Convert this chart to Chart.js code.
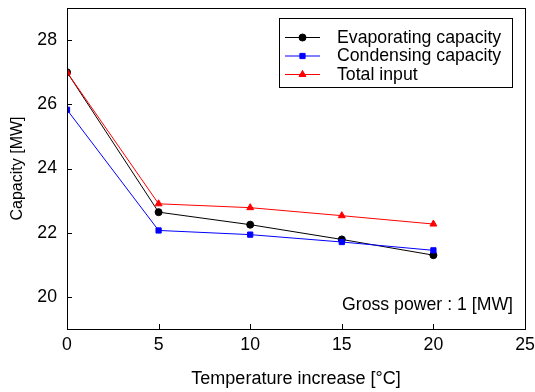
<!DOCTYPE html>
<html><head><meta charset="utf-8">
<script src="https://cdn.jsdelivr.net/npm/chart.js@4/dist/chart.umd.min.js"></script>
<style>html,body{margin:0;padding:0;background:#fff}#wrap{width:535px;height:392px}</style>
</head><body><div id="wrap"><canvas id="c" width="535" height="392"></canvas></div>
<script>
const temps = [0, 5, 10, 15, 20];
const evaporating = [27.0, 22.64, 22.25, 21.79, 21.30];
const condensing = [25.83, 22.07, 21.94, 21.71, 21.45];
const totalInput = [27.0, 22.90, 22.78, 22.53, 22.27];
const xTicks = [0, 5, 10, 15, 20, 25];
const yTicks = [20, 22, 24, 26, 28];
const seriesNames = ['Evaporating capacity', 'Condensing capacity', 'Total input'];
const annotation = 'Gross power : 1 [MW]';

const FONT = 'Liberation Sans, Arial, sans-serif';
const FS = 17.7;
Chart.defaults.font.family = FONT;
Chart.defaults.color = '#000';

function pts(ys){ return temps.map((x,i)=>({x:x,y:ys[i]})); }

const boxPlugin = {
  id:'boxPlugin',
  afterDraw(chart){
    const ctx = chart.ctx, a = chart.chartArea;
    const xs = chart.scales.x, ys = chart.scales.y;
    ctx.save();
    ctx.strokeStyle = '#000'; ctx.lineWidth = 1;
    ctx.strokeRect(Math.round(a.left)+0.5, Math.round(a.top)+0.5, Math.round(a.right-a.left), Math.round(a.bottom-a.top));
    ctx.beginPath();
    xTicks.forEach(v=>{ if(v>xs.min && v<xs.max){ const px=Math.round(xs.getPixelForValue(v))+0.5; ctx.moveTo(px,a.bottom); ctx.lineTo(px,a.bottom-5);} });
    yTicks.forEach(v=>{ const py=Math.round(ys.getPixelForValue(v))+0.5; ctx.moveTo(a.left,py); ctx.lineTo(a.left+5,py); });
    ctx.stroke();
    // legend
    const lx=279, ly=18, lw=233, lh=69;
    ctx.fillStyle='#fff'; ctx.fillRect(lx+0.5,ly+0.5,lw,lh);
    ctx.strokeRect(lx+0.5,ly+0.5,lw,lh);
    const rows=[37,55.5,74];
    chart.data.datasets.forEach((d,i)=>{
      const y=rows[i];
      ctx.strokeStyle=d.borderColor; ctx.lineWidth=1;
      ctx.beginPath(); ctx.moveTo(285,y+0.5); ctx.lineTo(320,y+0.5); ctx.stroke();
      ctx.fillStyle=d.pointBackgroundColor; ctx.strokeStyle=d.pointBorderColor;
      Chart.helpers.drawPoint(ctx,{pointStyle:d.pointStyle,radius:d.pointRadius,borderWidth:1},302.5,y+0.5);
      ctx.fillStyle='#000'; ctx.font=FS+'px '+FONT; ctx.textBaseline='middle'; ctx.textAlign='left';
      ctx.fillText(d.label,337,y+1);
    });
    ctx.fillStyle='#000'; ctx.font=FS+'px '+FONT; ctx.textAlign='right'; ctx.textBaseline='alphabetic';
    ctx.fillText(annotation,513,310);
    ctx.restore();
  }
};

const mk = (i, ys, color, style, r, order)=>({
  label: seriesNames[i], data: pts(ys), borderColor: color, backgroundColor: color,
  pointBackgroundColor: color, pointBorderColor: color, borderWidth: 1,
  pointStyle: style, pointRadius: r, pointHoverRadius: r, pointBorderWidth: 1,
  tension: 0, order: order
});

new Chart(document.getElementById('c'), {
  type:'line',
  data:{ datasets:[
    mk(0, evaporating, '#000000', 'circle', 3.5, 3),
    mk(1, condensing, '#0000ff', 'rect', 3.7, 2),
    mk(2, totalInput, '#ff0000', 'triangle', 4, 1)
  ]},
  options:{
    responsive:false, animation:false, devicePixelRatio:1,
    layout:{padding:{top:8, right:10, left:0, bottom:0}},
    plugins:{legend:{display:false}, tooltip:{enabled:false}},
    scales:{
      x:{ type:'linear', min:0, max:25,
        afterBuildTicks(s){ s.ticks = xTicks.map(v=>({value:v})); },
        afterFit(s){ s.height = 63; s.paddingLeft=0; s.paddingRight=0; },
        grid:{display:false, drawTicks:false},
        border:{display:true,color:'#000'},
        ticks:{font:{size:FS}, padding:5, maxRotation:0, autoSkip:false},
        title:{display:true, text:'Temperature increase [°C]', font:{size:18}, padding:{top:4,bottom:2}}
      },
      y:{ type:'linear', min:19, max:29,
        afterBuildTicks(s){ s.ticks = yTicks.map(v=>({value:v})); },
        afterFit(s){ s.width = 67; s.paddingTop=0; s.paddingBottom=0; },
        grid:{display:false, drawTicks:false},
        border:{display:true,color:'#000'},
        ticks:{font:{size:FS}, padding:10},
        title:{display:true, text:'Capacity [MW]', font:{size:16}, padding:{top:8,bottom:4}}
      }
    }
  },
  plugins:[boxPlugin]
});
</script></body></html>
